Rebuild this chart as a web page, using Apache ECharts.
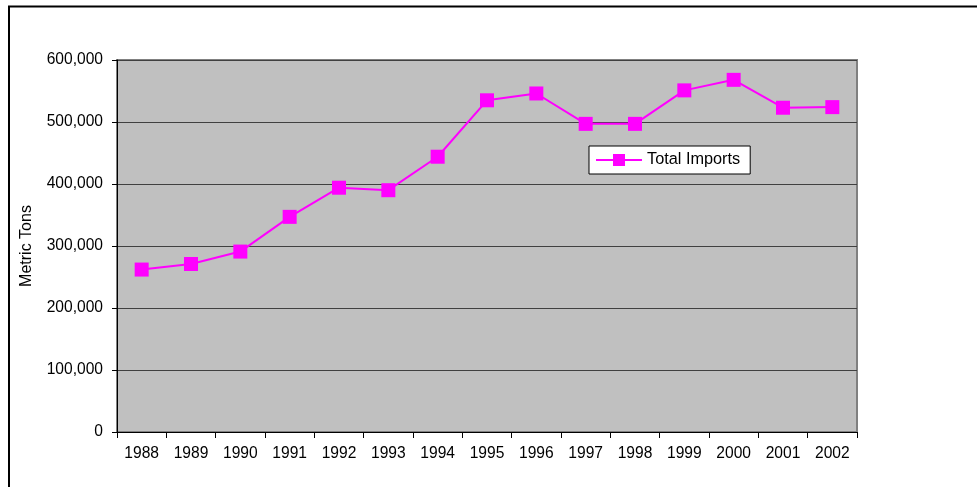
<!DOCTYPE html>
<html>
<head>
<meta charset="utf-8">
<script src="https://cdn.jsdelivr.net/npm/echarts@6/dist/echarts.min.js"></script>
<style>
html,body{margin:0;padding:0;background:#fff;}
#chart{width:977px;height:487px;}
</style>
</head>
<body>
<div id="chart"></div>
<script>
const years = ['1988','1989','1990','1991','1992','1993','1994','1995','1996','1997','1998','1999','2000','2001','2002'];
const totalImports = [262000,271000,291000,347000,394000,390000,444000,535000,546000,497000,497000,551000,568000,523000,524000];
const seriesName = 'Total Imports';
const yTitle = 'Metric Tons';
const yMin = 0, yMax = 600000, yStep = 100000;

const font = 'Arial, "Liberation Sans", sans-serif';
const chart = echarts.init(document.getElementById('chart'), null, {renderer:'canvas'});
chart.setOption({
  animation:false,
  backgroundColor:'#ffffff',
  graphic:[{
    type:'rect',
    shape:{x:9,y:6.5,width:2000,height:1000},
    style:{fill:'none',stroke:'#000',lineWidth:2},
    silent:true,
    z:-10
  }],
  grid:{left:117,top:60,right:120,bottom:55,show:true,backgroundColor:'#c0c0c0',borderColor:'#808080',borderWidth:2},
  legend:{
    left:589,top:146,
    padding:[6,10,6,6],
    backgroundColor:'#ffffff',borderColor:'#000',borderWidth:1,
    itemWidth:46,itemHeight:15,
    textStyle:{fontFamily:font,fontSize:16.3,color:'#000'},
    data:[seriesName]
  },
  xAxis:{
    type:'category',
    data:years,
    boundaryGap:true,
    axisLine:{lineStyle:{color:'#000',width:1}},
    axisTick:{show:true,length:6,lineStyle:{color:'#000'}},
    axisLabel:{color:'#000',fontFamily:font,fontSize:15.6,margin:14,interval:0},
    splitLine:{show:false}
  },
  yAxis:{
    type:'value',
    min:yMin,max:yMax,interval:yStep,
    name:yTitle,
    nameLocation:'middle',
    nameGap:82,
    nameTextStyle:{fontFamily:font,fontSize:16,color:'#000'},
    axisLine:{show:true,lineStyle:{color:'#000',width:1}},
    axisTick:{show:true,length:5,lineStyle:{color:'#000'}},
    axisLabel:{color:'#000',fontFamily:font,fontSize:15.6,margin:14,
      formatter:v=>v.toLocaleString('en-US')},
    splitLine:{show:true,lineStyle:{color:'#404040',width:1}}
  },
  series:[{
    name:seriesName,
    type:'line',
    data:totalImports,
    symbol:'rect',
    symbolSize:14,
    lineStyle:{color:'#ff00ff',width:2},
    itemStyle:{color:'#ff00ff'}
  }]
});
</script>
</body>
</html>
